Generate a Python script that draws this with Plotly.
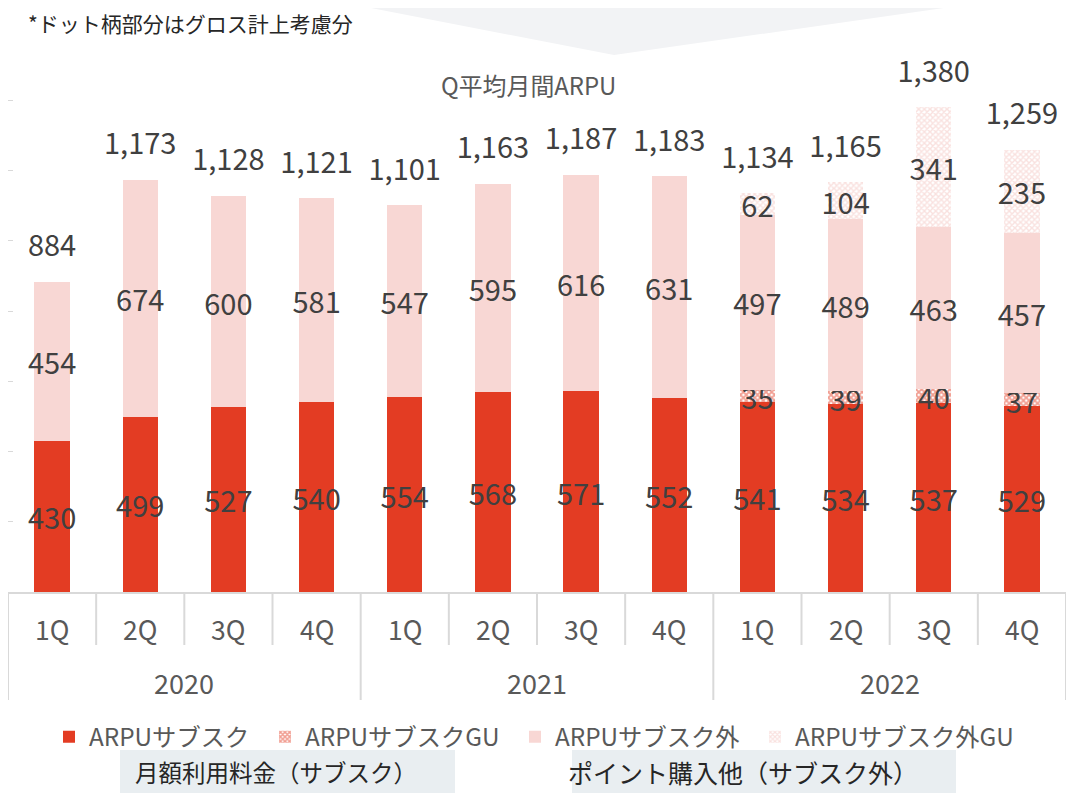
import plotly.graph_objects as go

years = ["2020", "2021", "2022"]
quarters = ["1Q", "2Q", "3Q", "4Q"]

arpu_sub = [430, 499, 527, 540, 554, 568, 571, 552, 541, 534, 537, 529]
arpu_sub_gu = [0, 0, 0, 0, 0, 0, 0, 0, 35, 39, 40, 37]
arpu_nonsub = [454, 674, 600, 581, 547, 595, 616, 631, 497, 489, 463, 457]
arpu_nonsub_gu = [0, 0, 0, 0, 0, 0, 0, 0, 62, 104, 341, 235]
totals = [884, 1173, 1128, 1121, 1101, 1163, 1187, 1183, 1134, 1165, 1380, 1259]

series_names = ["ARPUサブスク", "ARPUサブスクGU", "ARPUサブスク外", "ARPUサブスク外GU"]
chart_title = "Q平均月間ARPU"
note_text = "*ドット柄部分はグロス計上考慮分"
box_labels = ["月額利用料金（サブスク）", "ポイント購入他（サブスク外）"]

x_years = [y for y in years for _ in quarters]
x_quarters = [q for _ in years for q in quarters]
pos = list(range(len(x_quarters)))
nq = len(quarters)

FONT = "Noto Sans CJK JP"
RED = "#E33C23"
PINK = "#F8D7D4"
LABEL = "#404040"
AXIS_TXT = "#595959"
GRID = "#D9D9D9"


def lbl(vals):
    return [f"{v:,}" if v else "" for v in vals]


def bar(name, vals, color, legend, pattern=None):
    marker = dict(color=color, line=dict(width=0))
    if pattern:
        marker["pattern"] = pattern
    return go.Bar(
        name=name, x=pos, y=vals, marker=marker, legend=legend,
        text=lbl(vals), textposition="inside", insidetextanchor="middle",
        textangle=0, constraintext="none",
        insidetextfont=dict(family=FONT, size=29, color=LABEL),
        hoverinfo="skip", cliponaxis=False,
    )


fig = go.Figure()
fig.add_trace(bar(series_names[0], arpu_sub, RED, "legend"))
fig.add_trace(bar(series_names[1], arpu_sub_gu, "white", "legend2",
                  dict(shape="x", fgcolor=RED, bgcolor="white", size=4, solidity=0.7)))
fig.add_trace(bar(series_names[2], arpu_nonsub, PINK, "legend3"))
fig.add_trace(bar(series_names[3], arpu_nonsub_gu, "white", "legend4",
                  dict(shape="x", fgcolor="#F4C4BF", bgcolor="white", size=4, solidity=0.6)))

fig.add_trace(go.Scatter(
    x=pos, y=totals, mode="markers+text", text=[f"{t:,}" for t in totals],
    textposition="top center", marker=dict(size=28, opacity=0),
    textfont=dict(family=FONT, size=29, color=LABEL),
    showlegend=False, hoverinfo="skip", cliponaxis=False,
))


# paper-coordinate helpers (plot area: x 8..1066 px, y 30..592 px of the page)
def px_x(p):
    return (p - 8) / 1058


def px_y(p):
    return (592 - p) / 562


shapes = [
    dict(type="path", xref="paper", yref="paper", layer="below",
         path=f"M {px_x(278)},{px_y(-10)} L {px_x(614)},{px_y(55)} L {px_x(1070)},{px_y(-10)} Z",
         fillcolor="#F2F3F5", line=dict(width=0)),
    dict(type="rect", xref="paper", yref="paper", layer="below",
         x0=px_x(120), x1=px_x(455), y0=px_y(750), y1=px_y(800),
         fillcolor="#E9EEF1", line=dict(width=0)),
    dict(type="rect", xref="paper", yref="paper", layer="below",
         x0=px_x(572), x1=px_x(956), y0=px_y(750), y1=px_y(800),
         fillcolor="#E9EEF1", line=dict(width=0)),
]

# category separators of the two-level axis
for b in range(len(pos) + 1):
    xb = b - 0.5
    is_year = (b % nq == 0)
    shapes.append(dict(type="line", xref="x", yref="paper", x0=xb, x1=xb,
                       y0=0, y1=px_y(700 if is_year else 645),
                       line=dict(color=GRID, width=2)))

annotations = [
    dict(text=chart_title, xref="paper", yref="paper", x=px_x(528), y=px_y(85),
         xanchor="center", yanchor="middle",
         showarrow=False, font=dict(family=FONT, size=23.9, color=AXIS_TXT)),
    dict(text=note_text, xref="paper", yref="paper", x=px_x(27), y=px_y(23),
         xanchor="left", yanchor="middle", showarrow=False, borderpad=0,
         font=dict(family=FONT, size=21, color="#262626")),
    dict(text=box_labels[0], xref="paper", yref="paper", x=px_x(276), y=px_y(772),
         xanchor="center", yanchor="middle",
         showarrow=False, font=dict(family=FONT, size=23.5, color="#262626")),
    dict(text=box_labels[1], xref="paper", yref="paper", x=px_x(743), y=px_y(772),
         xanchor="center", yanchor="middle",
         showarrow=False, font=dict(family=FONT, size=25, color="#262626")),
]
for i, q in enumerate(x_quarters):
    annotations.append(dict(text=q, xref="x", yref="paper", x=pos[i], y=px_y(628),
                            xanchor="center", yanchor="middle", showarrow=False,
                            font=dict(family=FONT, size=26.5, color=AXIS_TXT)))
for j, yr in enumerate(years):
    grp = pos[j * nq:(j + 1) * nq]
    annotations.append(dict(text=yr, xref="x", yref="paper", x=sum(grp) / len(grp),
                            y=px_y(682), xanchor="center", yanchor="middle", showarrow=False,
                            font=dict(family=FONT, size=27, color=AXIS_TXT)))


def legend_at(text_left_px):
    return dict(orientation="h", x=px_x(text_left_px - 40), y=px_y(737),
                xanchor="left", yanchor="middle",
                font=dict(family=FONT, size=24.3, color=AXIS_TXT),
                bgcolor="rgba(0,0,0,0)")


fig.update_layout(
    width=1068, height=785,
    margin=dict(l=0, r=10, t=22, b=201),
    barmode="stack", bargap=0.6,
    plot_bgcolor="white", paper_bgcolor="white",
    font=dict(family=FONT, color=AXIS_TXT),
    showlegend=True,
    legend=legend_at(89), legend2=legend_at(305),
    legend3=legend_at(555), legend4=legend_at(795),
    shapes=shapes, annotations=annotations,
    xaxis=dict(range=[-0.5, len(pos) - 0.5], showgrid=False, zeroline=False,
               showline=True, linecolor=GRID, linewidth=2,
               showticklabels=False, ticks=""),
    yaxis=dict(range=[0, 1600], showgrid=False, zeroline=False, showline=False,
               tickvals=[0, 200, 400, 600, 800, 1000, 1200, 1400],
               ticks="inside", ticklen=5, tickcolor=GRID, showticklabels=False),
)

fig.write_html("out.html")
